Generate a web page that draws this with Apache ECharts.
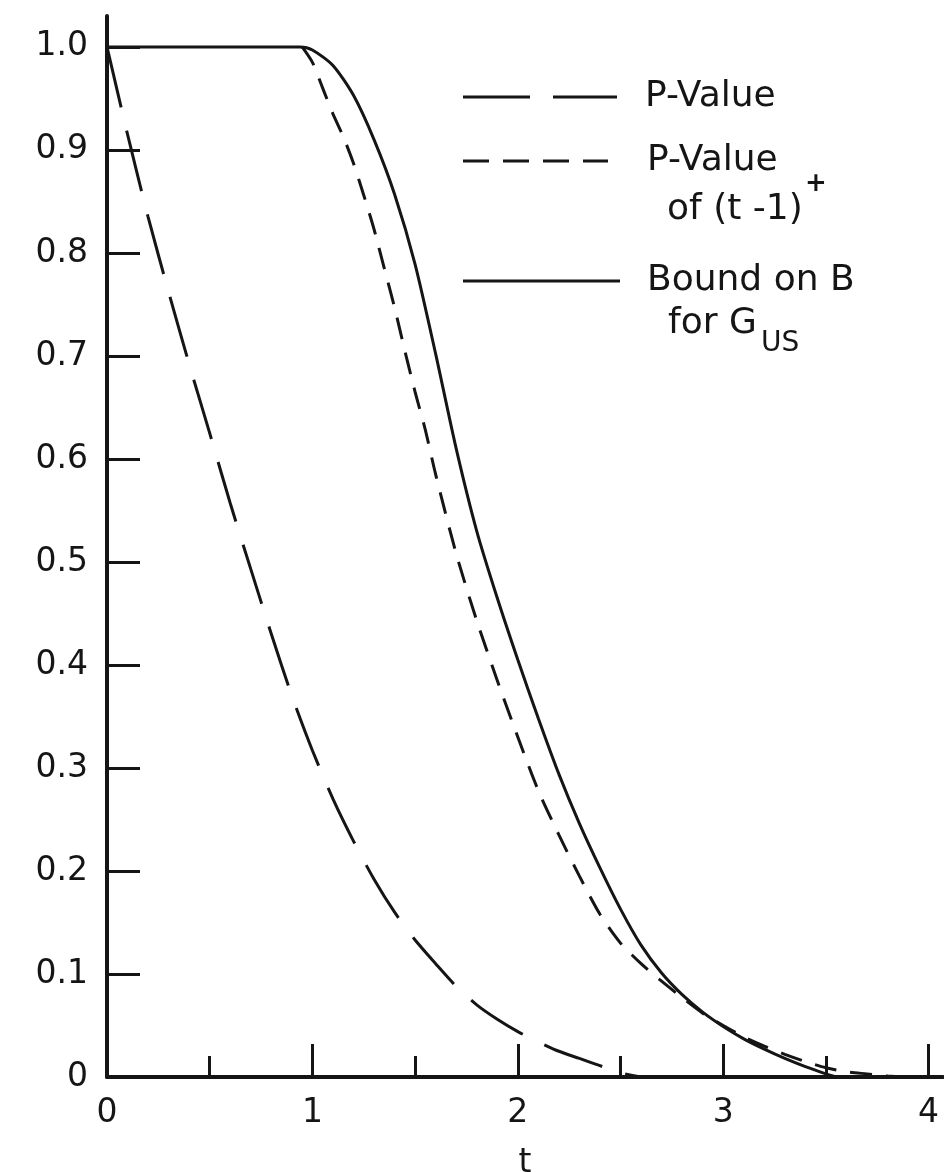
<!DOCTYPE html>
<html>
<head>
<meta charset="utf-8">
<script src="https://cdn.jsdelivr.net/npm/echarts@6/dist/echarts.min.js"></script>
<style>
html,body{margin:0;padding:0;background:#fff;}
#chart{width:944px;height:1172px;}
</style>
</head>
<body>
<div id="chart"></div>
<script>
// ---- data ----
const xMajorTicks = [0, 1, 2, 3, 4];
const xHalfTicks = [0.5, 1.5, 2.5, 3.5];
const xTickLabels = ['0', '1', '2', '3', '4'];
const yTicks = [0, 0.1, 0.2, 0.3, 0.4, 0.5, 0.6, 0.7, 0.8, 0.9, 1.0];
const yTickLabels = ['0', '0.1', '0.2', '0.3', '0.4', '0.5', '0.6', '0.7', '0.8', '0.9', '1.0'];

// P-Value (long dashes)
const pValueT = [0, 0.1, 0.2, 0.3, 0.4, 0.5, 0.6, 0.7, 0.8, 0.9, 1.0, 1.1, 1.2, 1.3, 1.4, 1.5, 1.6, 1.7, 1.8, 1.9, 2.0, 2.1, 2.2, 2.3, 2.4, 2.5, 2.6];
const pValueV = [1.0, 0.915, 0.835, 0.762, 0.692, 0.625, 0.557, 0.493, 0.43, 0.37, 0.317, 0.27, 0.229, 0.192, 0.16, 0.133, 0.11, 0.088, 0.07, 0.056, 0.044, 0.034, 0.025, 0.018, 0.011, 0.004, 0.0];

// P-Value of (t-1)+ (short dashes)
const shiftedT = [0.95, 1.0, 1.05, 1.1, 1.15, 1.2, 1.25, 1.3, 1.35, 1.4, 1.45, 1.5, 1.55, 1.6, 1.7, 1.8, 1.9, 2.0, 2.1, 2.2, 2.3, 2.4, 2.5, 2.6, 2.7, 2.8, 2.9, 3.0, 3.1, 3.2, 3.3, 3.4, 3.5, 3.6, 3.7, 3.8, 3.9];
const shiftedV = [1.0, 0.985, 0.96, 0.935, 0.913, 0.887, 0.856, 0.823, 0.785, 0.747, 0.705, 0.665, 0.628, 0.585, 0.508, 0.443, 0.385, 0.33, 0.278, 0.235, 0.195, 0.158, 0.13, 0.11, 0.093, 0.077, 0.062, 0.05, 0.039, 0.03, 0.022, 0.015, 0.009, 0.005, 0.003, 0.001, 0.0];

// Bound on B for G_US (solid)
const boundT = [0, 0.94, 1.0, 1.1, 1.2, 1.3, 1.4, 1.5, 1.6, 1.7, 1.8, 1.9, 2.0, 2.1, 2.2, 2.3, 2.4, 2.5, 2.6, 2.7, 2.8, 2.9, 3.0, 3.1, 3.2, 3.3, 3.4, 3.5, 3.55];
const boundV = [1.0, 1.0, 0.997, 0.982, 0.953, 0.91, 0.857, 0.789, 0.702, 0.61, 0.53, 0.465, 0.405, 0.348, 0.294, 0.246, 0.203, 0.163, 0.128, 0.101, 0.08, 0.063, 0.049, 0.037, 0.027, 0.018, 0.01, 0.003, 0.0];

const zip = (a, b) => a.map((v, i) => [v, b[i]]);

const INK = '#151515';
const FONT = 'DejaVu Sans';

const chart = echarts.init(document.getElementById('chart'), null, {renderer: 'canvas'});

const option = {
  backgroundColor: '#ffffff',
  animation: false,
  grid: {left: 107, right: 1, top: 16, bottom: 95, containLabel: false, outerBoundsMode: 'none'},
  xAxis: [
    {
      type: 'value', min: 0, max: 4.07,
      name: 't', nameLocation: 'middle', nameGap: 70,
      nameTextStyle: {fontFamily: FONT, fontSize: 33, color: INK},
      axisLine: {show: true, onZero: false, lineStyle: {color: INK, width: 4}},
      axisTick: {show: true, inside: true, length: 33, customValues: xMajorTicks, lineStyle: {color: INK, width: 3}},
      axisLabel: {
        show: true, customValues: xMajorTicks, margin: 20,
        fontFamily: FONT, fontSize: 33, color: INK,
        formatter: v => xTickLabels[xMajorTicks.indexOf(v)] ?? ''
      },
      splitLine: {show: false}
    },
    {
      type: 'value', min: 0, max: 4.07, position: 'bottom',
      axisLine: {show: false},
      axisTick: {show: true, inside: true, length: 21, customValues: xHalfTicks, lineStyle: {color: INK, width: 3}},
      axisLabel: {show: false},
      splitLine: {show: false}
    }
  ],
  yAxis: {
    type: 'value', min: 0, max: 1.03,
    axisLine: {show: true, onZero: false, lineStyle: {color: INK, width: 4}},
    axisTick: {show: true, inside: true, length: 33, customValues: yTicks, lineStyle: {color: INK, width: 3}},
    axisLabel: {
      show: true, customValues: yTicks, margin: 19,
      fontFamily: FONT, fontSize: 33, color: INK,
      formatter: v => {
        const i = yTicks.findIndex(t => Math.abs(t - v) < 1e-9);
        return i >= 0 ? yTickLabels[i] : '';
      }
    },
    splitLine: {show: false}
  },
  series: [
    {
      name: 'P-Value', type: 'line', data: zip(pValueT, pValueV),
      showSymbol: false, smooth: 0.25,
      lineStyle: {color: INK, width: 3, type: [62, 24]}
    },
    {
      name: 'P-Value of (t-1)+', type: 'line', data: zip(shiftedT, shiftedV),
      showSymbol: false, smooth: 0.25,
      lineStyle: {color: INK, width: 3, type: [22, 14]}
    },
    {
      name: 'Bound on B for G_US', type: 'line', data: zip(boundT, boundV),
      showSymbol: false, smooth: 0.25,
      lineStyle: {color: INK, width: 3, type: 'solid'}
    }
  ],
  graphic: [
    {type: 'line', shape: {x1: 463, y1: 97, x2: 617, y2: 97}, style: {stroke: INK, lineWidth: 3, lineDash: [67, 23]}},
    {type: 'text', x: 645, y: 97, style: {text: 'P-Value', fontFamily: FONT, fontSize: 36, fill: INK, verticalAlign: 'middle'}},

    {type: 'line', shape: {x1: 463, y1: 161, x2: 608, y2: 161}, style: {stroke: INK, lineWidth: 3, lineDash: [26, 14]}},
    {type: 'text', x: 647, y: 161, style: {text: 'P-Value', fontFamily: FONT, fontSize: 36, fill: INK, verticalAlign: 'middle'}},
    {type: 'text', x: 667, y: 210, style: {text: 'of (t -1)', fontFamily: FONT, fontSize: 36, fill: INK, verticalAlign: 'middle'}},
    {type: 'text', x: 805, y: 184, style: {text: '+', fontFamily: FONT, fontSize: 26, fontWeight: 'bold', fill: INK, verticalAlign: 'middle'}},

    {type: 'line', shape: {x1: 463, y1: 281, x2: 620, y2: 281}, style: {stroke: INK, lineWidth: 3}},
    {type: 'text', x: 647, y: 281, style: {text: 'Bound on B', fontFamily: FONT, fontSize: 36, fill: INK, verticalAlign: 'middle'}},
    {type: 'text', x: 668, y: 324, style: {text: 'for G', fontFamily: FONT, fontSize: 36, fill: INK, verticalAlign: 'middle'}},
    {type: 'text', x: 761, y: 344, style: {text: 'US', fontFamily: FONT, fontSize: 28, fill: INK, verticalAlign: 'middle'}}
  ]
};

chart.setOption(option);
</script>
</body>
</html>
